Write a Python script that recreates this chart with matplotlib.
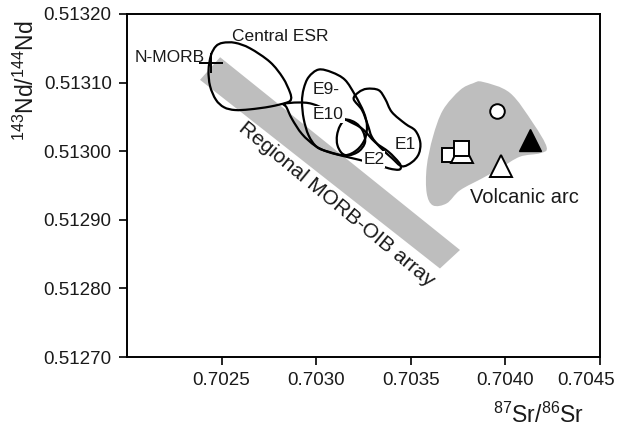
import numpy as np
import matplotlib
matplotlib.use("Agg")
import matplotlib.pyplot as plt
from matplotlib.path import Path
from matplotlib.patches import PathPatch, Polygon
from matplotlib.transforms import ScaledTranslation

plt.rcParams['font.family'] = ['Liberation Sans', 'DejaVu Sans']
plt.rcParams['mathtext.fontset'] = 'custom'
plt.rcParams['mathtext.rm'] = 'Liberation Sans'
plt.rcParams['mathtext.it'] = 'Liberation Sans'

# ---------------- data ----------------
x_ticks = [0.7025, 0.7030, 0.7035, 0.7040, 0.7045]
y_ticks = [0.51270, 0.51280, 0.51290, 0.51300, 0.51310, 0.51320]

# Regional MORB-OIB array (gray band)
band_x = [0.702386, 0.702492, 0.703760, 0.703654]
band_y = [0.513104, 0.513137, 0.512856, 0.512829]

# Volcanic arc field (gray blob)
arc_x = [0.703881, 0.704024, 0.704146, 0.704218, 0.704183, 0.704077, 0.703971,
         0.703881, 0.703760, 0.703690, 0.703617, 0.703584, 0.703584, 0.703617,
         0.703670, 0.703760, 0.703829]
arc_y = [0.513101, 0.513085, 0.513041, 0.513006, 0.512997, 0.512992, 0.512975,
         0.512961, 0.512943, 0.512924, 0.512921, 0.512939, 0.512977, 0.513021,
         0.513060, 0.513089, 0.513099]

# Central ESR field
cesr_x = [0.702507, 0.702571, 0.702650, 0.702756, 0.702824, 0.702861, 0.702867,
          0.702846, 0.702756, 0.702650, 0.702571, 0.702513, 0.702470, 0.702439,
          0.702431, 0.702444, 0.702470]
cesr_y = [0.513158, 0.513158, 0.513150, 0.513130, 0.513107, 0.513086, 0.513076,
          0.513071, 0.513065, 0.513061, 0.513060, 0.513064, 0.513075, 0.513095,
          0.513118, 0.513140, 0.513153]

# E9 field
e9_x = [0.703013, 0.703083, 0.703152, 0.703205, 0.703251, 0.703268, 0.703258,
        0.703216, 0.703152, 0.703068, 0.703004, 0.702960, 0.702934, 0.702925,
        0.702934, 0.702960]
e9_y = [0.513119, 0.513115, 0.513104, 0.513082, 0.513057, 0.513038, 0.513018,
        0.513002, 0.512994, 0.512999, 0.513006, 0.513023, 0.513047, 0.513072,
        0.513091, 0.513108]

# E10 field
e10_x = [0.702830, 0.702904, 0.702978, 0.703073, 0.703163, 0.703242, 0.703312,
         0.703383, 0.703436, 0.703448, 0.703436, 0.703383, 0.703277, 0.703172,
         0.703062, 0.702994, 0.702925, 0.702872, 0.702843]
e10_y = [0.513069, 0.513071, 0.513069, 0.513058, 0.513045, 0.513033, 0.513013,
         0.512999, 0.512984, 0.512977, 0.512973, 0.512975, 0.512984, 0.512991,
         0.512999, 0.513008, 0.513025, 0.513047, 0.513064]

# E2 field
e2_x = [0.703157, 0.703210, 0.703247, 0.703258, 0.703226, 0.703173, 0.703136,
        0.703112, 0.703110, 0.703126]
e2_y = [0.513046, 0.513041, 0.513029, 0.513013, 0.513000, 0.512994, 0.512997,
        0.513009, 0.513023, 0.513037]

# E1 field
e1_x = [0.703198, 0.703225, 0.703268, 0.703330, 0.703365, 0.703400, 0.703471,
        0.703524, 0.703550, 0.703542, 0.703506, 0.703453, 0.703400, 0.703337,
        0.703294, 0.703273, 0.703242]
e1_y = [0.513076, 0.513086, 0.513091, 0.513089, 0.513076, 0.513057, 0.513040,
        0.513030, 0.513013, 0.512996, 0.512984, 0.512978, 0.512990, 0.513006,
        0.513021, 0.513038, 0.513060]

# N-MORB
nmorb_x, nmorb_y = 0.702442, 0.513128
nmorb_xerr, nmorb_yerr = 0.0000634, 0.0000146

# Volcanic arc samples
circle_x, circle_y = [0.703954], [0.513059]
tri_filled_x, tri_filled_y = [0.704130], [0.513016]
tri_open_x, tri_open_y = [0.703977, 0.703768], [0.512979, 0.512999]
sq_small_x, sq_small_y = [0.703702], [0.512994]
sq_big_x, sq_big_y = [0.703764], [0.513005]

# ---------------- figure ----------------
fig = plt.figure(figsize=(6.27, 4.34), dpi=100)
ax = fig.add_axes([127/627, 1-357/434, 473/627, 343/434])
ax.set_xlim(0.7020, 0.7045)
ax.set_ylim(0.51270, 0.51320)

GRAY = '#bebebe'
TXT = '#1a1a1a'


def smooth_closed(xs, ys):
    P = np.column_stack([xs, ys])
    n = len(P)
    verts = [P[0]]
    codes = [Path.MOVETO]
    for i in range(n):
        p0 = P[i - 1]
        p1 = P[i]
        p2 = P[(i + 1) % n]
        p3 = P[(i + 2) % n]
        verts += [p1 + (p2 - p0) / 6.0, p2 - (p3 - p1) / 6.0, p2]
        codes += [Path.CURVE4] * 3
    verts.append(P[0])
    codes.append(Path.CLOSEPOLY)
    return Path(np.array(verts), codes)


ax.add_patch(Polygon(np.column_stack([band_x, band_y]), closed=True,
                     facecolor=GRAY, edgecolor='none', zorder=1))
ax.add_patch(PathPatch(smooth_closed(arc_x, arc_y), facecolor=GRAY,
                       edgecolor='none', zorder=1))

for xs, ys in [(cesr_x, cesr_y), (e9_x, e9_y), (e10_x, e10_y),
               (e2_x, e2_y), (e1_x, e1_y)]:
    ax.add_patch(PathPatch(smooth_closed(xs, ys), facecolor='none',
                           edgecolor='black', lw=1.6, zorder=2))

ax.errorbar([nmorb_x], [nmorb_y], xerr=[nmorb_xerr], yerr=[nmorb_yerr],
            fmt='none', ecolor='black', elinewidth=1.4, capsize=0, zorder=3)

ax.plot(sq_small_x, sq_small_y, 's', ms=9.4, mfc='white', mec='black', mew=1.4, zorder=4)
ax.plot(tri_open_x, tri_open_y, '^', ms=16.5, mfc='white', mec='black', mew=1.4,
        ls='none', zorder=5)
ax.plot(sq_big_x, sq_big_y, 's', ms=10.8, mfc='white', mec='black', mew=1.4, zorder=6)
ax.plot(circle_x, circle_y, 'o', ms=10.5, mfc='white', mec='black', mew=1.4, zorder=6)
ax.plot(tri_filled_x, tri_filled_y, '^', ms=16.5, mfc='black', mec='black', mew=1.0, zorder=6)

# labels
ax.text(0.702809, 0.513167, 'Central ESR', fontsize=12.5, color=TXT,
        ha='center', va='center', zorder=7)
ax.text(0.702227, 0.513137, 'N-MORB', fontsize=12.5, color=TXT,
        ha='center', va='center', zorder=7)
wb = dict(facecolor='white', edgecolor='none', pad=0.6)
ax.text(0.702983, 0.513090, 'E9-', fontsize=12.5, color=TXT,
        ha='left', va='center', zorder=7)
ax.text(0.702983, 0.513053, 'E10', fontsize=12.5, color=TXT,
        ha='left', va='center', zorder=7, bbox=wb)
ax.text(0.703304, 0.512988, 'E2', fontsize=12.5, color=TXT,
        ha='center', va='center', zorder=7, bbox=wb)
ax.text(0.703472, 0.513010, 'E1', fontsize=12.5, color=TXT,
        ha='center', va='center', zorder=7)
ax.text(0.704103, 0.512932, 'Volcanic arc', fontsize=14.5, color=TXT,
        ha='center', va='center', zorder=7)
ax.text(0.703105, 0.512922, 'Regional MORB-OIB array', fontsize=15, color=TXT,
        ha='center', va='center', rotation=-39.5, rotation_mode='anchor', zorder=7)

# axes styling
ax.set_xticks(x_ticks)
ax.set_xticklabels(['%.4f' % v for v in x_ticks])
ax.set_yticks(y_ticks)
ax.set_yticklabels(['%.5f' % v for v in y_ticks])
ax.tick_params(direction='out', length=6, width=1.2, labelsize=13.5,
               labelcolor=TXT, pad=5)
for s in ax.spines.values():
    s.set_linewidth(1.4)

# shift last x tick label left a little (fits inside picture)
lbl = ax.get_xticklabels()[-1]
lbl.set_transform(lbl.get_transform() + ScaledTranslation(-0.14, 0, fig.dpi_scale_trans))

fig.text(539/627, 1-423/434, r'$^{87}$Sr/$^{86}$Sr', fontsize=16.5, color=TXT,
         ha='center', va='baseline')
fig.text(26/627, 1-81/434, r'$^{143}$Nd/$^{144}$Nd', fontsize=16.5, color=TXT,
         ha='center', va='center', rotation=90)

fig.savefig('out.png', dpi=100)
